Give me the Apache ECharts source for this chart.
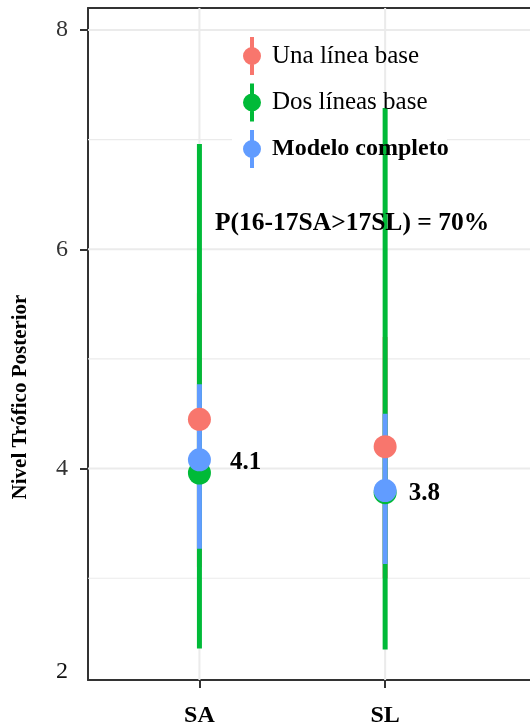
<!DOCTYPE html>
<html>
<head>
<meta charset="utf-8">
<script src="https://cdn.jsdelivr.net/npm/echarts@6/dist/echarts.min.js"></script>
<style>
  html, body { margin: 0; padding: 0; background: #fff; }
  #chart { width: 530px; height: 728px; }
</style>
</head>
<body>
<div id="chart"></div>
<script>
// Posterior trophic level by site, three model variants (mean and interval)
const categories = ['SA', 'SL'];
const seriesNames = ['Una línea base', 'Dos líneas base', 'Modelo completo'];

const unaMean = [4.45, 4.20];
const unaLow = [3.10, 3.00];
const unaHigh = [5.60, 5.20];

const dosMean = [3.96, 3.78];
const dosLow = [2.36, 2.35];
const dosHigh = [6.96, 7.29];

const completoMean = [4.08, 3.80];
const completoLow = [3.27, 3.13];
const completoHigh = [4.77, 4.50];

const yTickValues = [4, 6, 8];
const yMinorValues = [3, 5, 7];
const yRange = [2.072, 8.201];
const xRange = [0.4, 2.78];
const probLabel = 'P(16-17SA>17SL) = 70%';
const yTitle = 'Nivel Trófico Posterior';

// ---- styling ----
const colors = ['#F8766D', '#00BA38', '#619CFF'];
const FONT = '"Liberation Serif", "Times New Roman", serif';
const AXIS_COLOR = '#333333';
const GRID_COLOR = '#ebebeb';
const valueLabelGap = [19, 12];
// legend key: a dot crossed by a vertical bar
const LEGEND_ICON = 'path://M7,0H11V38H7Z M0,19A9,9,0,1,1,18,19A9,9,0,1,1,0,19Z';

const groups = [
  { name: seriesNames[0], mean: unaMean, low: unaLow, high: unaHigh },
  { name: seriesNames[1], mean: dosMean, low: dosLow, high: dosHigh },
  { name: seriesNames[2], mean: completoMean, low: completoLow, high: completoHigh }
];
const xPos = categories.map((c, i) => i + 1);

// panel gridlines: kind 0 = major horizontal, 1 = minor horizontal, 2 = vertical
const gridData = []
  .concat(yTickValues.map(v => [0, v]))
  .concat(yMinorValues.map(v => [1, v]))
  .concat(xPos.map(v => [2, v]));

const gridSeries = {
  type: 'custom',
  name: '_grid',
  silent: true,
  z: 1,
  data: gridData,
  renderItem: (params, api) => {
    const cs = params.coordSys;
    const kind = api.value(0);
    const v = api.value(1);
    if (kind === 2) {
      const p = api.coord([v, yRange[0]]);
      return { type: 'line', shape: { x1: p[0], y1: cs.y, x2: p[0], y2: cs.y + cs.height },
        style: { stroke: GRID_COLOR, lineWidth: 2 } };
    }
    const p = api.coord([xRange[0], v]);
    return { type: 'line', shape: { x1: cs.x, y1: p[1], x2: cs.x + cs.width, y2: p[1] },
      style: { stroke: GRID_COLOR, lineWidth: kind === 0 ? 2 : 1.2 } };
  }
};

const pointSeries = groups.map((g, i) => ({
  type: 'scatter',
  name: g.name,
  z: 3,
  symbol: 'circle',
  symbolSize: 23,
  itemStyle: { color: colors[i], opacity: 1 },
  data: xPos.map((x, k) => {
    const item = { value: [x, g.mean[k]] };
    if (i === 2) {
      item.label = {
        show: true, position: 'right', distance: valueLabelGap[k], offset: [0, 3],
        formatter: p => p.value[1].toFixed(1),
        fontFamily: FONT, fontSize: 25, fontWeight: 'bold', color: '#000'
      };
    }
    return item;
  }),
  emphasis: { disabled: true }
}));

const rangeSeries = groups.map((g, i) => ({
  type: 'custom',
  name: g.name,
  z: 2,
  silent: true,
  itemStyle: { color: colors[i] },
  data: xPos.map((x, k) => [x, g.low[k], g.high[k]]),
  encode: { x: 0, y: [1, 2] },
  renderItem: (params, api) => {
    const a = api.coord([api.value(0), api.value(1)]);
    const b = api.coord([api.value(0), api.value(2)]);
    return { type: 'line', shape: { x1: a[0], y1: a[1], x2: b[0], y2: b[1] },
      style: { stroke: colors[i], lineWidth: 5, lineCap: 'butt' } };
  }
}));

const chart = echarts.init(document.getElementById('chart'), null, { renderer: 'canvas' });

chart.setOption({
  animation: false,
  backgroundColor: '#ffffff',
  grid: { left: 88, right: 0, top: 8, bottom: 47, containLabel: false },
  xAxis: [
    {
      type: 'value', min: xRange[0], max: xRange[1], position: 'bottom',
      axisLine: { show: true, onZero: false, lineStyle: { color: AXIS_COLOR, width: 2 } },
      axisTick: { show: true, length: 8, customValues: xPos, lineStyle: { color: AXIS_COLOR, width: 2 } },
      axisLabel: {
        customValues: xPos, margin: 24,
        formatter: v => categories[Math.round(v) - 1],
        fontFamily: FONT, fontSize: 24, fontWeight: 'bold', color: '#000'
      },
      splitLine: { show: false }
    },
    {
      type: 'value', min: xRange[0], max: xRange[1], position: 'top',
      axisLine: { show: true, onZero: false, lineStyle: { color: AXIS_COLOR, width: 2 } },
      axisTick: { show: false }, axisLabel: { show: false }, splitLine: { show: false }
    }
  ],
  yAxis: {
    type: 'value', min: yRange[0], max: yRange[1],
    axisLine: { show: true, onZero: false, lineStyle: { color: AXIS_COLOR, width: 2 } },
    axisTick: { show: true, length: 8, customValues: yTickValues, lineStyle: { color: AXIS_COLOR, width: 2 } },
    axisLabel: {
      // the lowest label marks the floor of the axis
      customValues: [yRange[0]].concat(yTickValues),
      margin: 20,
      formatter: v => (v < yTickValues[0] ? '{low|' + Math.round(v) + '}' : String(Math.round(v))),
      fontFamily: FONT, fontSize: 24, color: AXIS_COLOR,
      rich: { low: { fontFamily: FONT, fontSize: 24, color: '#111', padding: [0, 0, 16, 0] } }
    },
    splitLine: { show: false }
  },
  legend: {
    orient: 'vertical',
    left: 243, top: 37,
    padding: 0,
    itemGap: 8.5,
    itemWidth: 18, itemHeight: 38,
    selectedMode: false,
    data: seriesNames.map(n => ({ name: n, icon: LEGEND_ICON })),
    itemStyle: { borderWidth: 0 },
    formatter: n => (n === seriesNames[2] ? '{b|' + n + '}' : '{n|' + n + '}'),
    textStyle: {
      rich: {
        n: { fontFamily: FONT, fontSize: 25, color: '#000', padding: [0, 0, 0, 6] },
        b: { fontFamily: FONT, fontSize: 24, fontWeight: 'bold', color: '#000', padding: [0, 0, 0, 6] }
      }
    }
  },
  graphic: [
    { type: 'rect', z: 1.5, silent: true, shape: { x: 232, y: 124, width: 215, height: 40 }, style: { fill: '#ffffff' } },
    { type: 'text', z: 5, x: 215, y: 223,
      style: { text: probLabel, fontFamily: FONT, fontSize: 25.5, fontWeight: 'bold', fill: '#000',
        align: 'left', verticalAlign: 'middle' } },
    { type: 'text', z: 5, x: 21, y: 397, rotation: Math.PI / 2,
      style: { text: yTitle, fontFamily: FONT, fontSize: 21, fontWeight: 'bold', fill: '#000',
        align: 'center', verticalAlign: 'middle' } }
  ],
  series: [gridSeries].concat(pointSeries, rangeSeries)
});
</script>
</body>
</html>
